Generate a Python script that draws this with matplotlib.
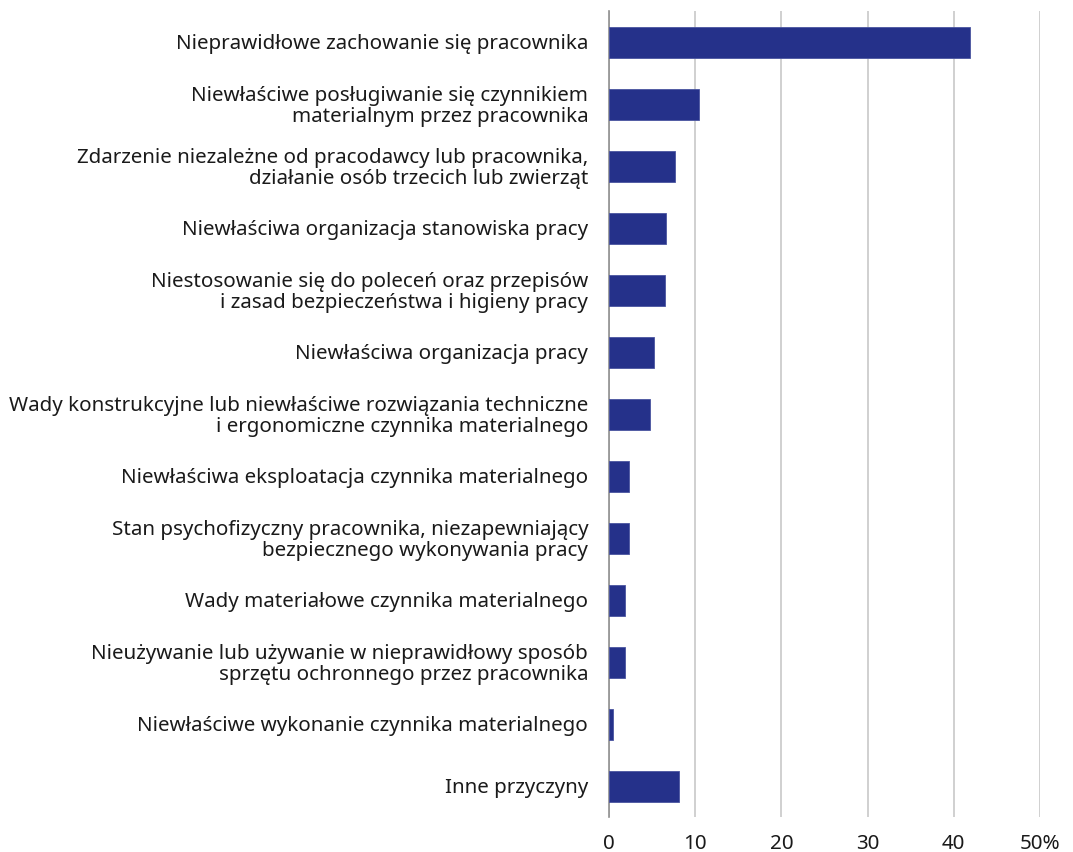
import matplotlib
matplotlib.use("Agg")
import matplotlib.pyplot as plt
from matplotlib.transforms import ScaledTranslation

categories = [
    "Nieprawidłowe zachowanie się pracownika",
    "Niewłaściwe posługiwanie się czynnikiem\nmaterialnym przez pracownika",
    "Zdarzenie niezależne od pracodawcy lub pracownika,\ndziałanie osób trzecich lub zwierząt",
    "Niewłaściwa organizacja stanowiska pracy",
    "Niestosowanie się do poleceń oraz przepisów\ni zasad bezpieczeństwa i higieny pracy",
    "Niewłaściwa organizacja pracy",
    "Wady konstrukcyjne lub niewłaściwe rozwiązania techniczne\ni ergonomiczne czynnika materialnego",
    "Niewłaściwa eksploatacja czynnika materialnego",
    "Stan psychofizyczny pracownika, niezapewniający\nbezpiecznego wykonywania pracy",
    "Wady materiałowe czynnika materialnego",
    "Nieużywanie lub używanie w nieprawidłowy sposób\nsprzętu ochronnego przez pracownika",
    "Niewłaściwe wykonanie czynnika materialnego",
    "Inne przyczyny",
]
values = [41.9, 10.4, 7.7, 6.6, 6.5, 5.2, 4.7, 2.3, 2.3, 1.9, 1.9, 0.5, 8.1]
xticks = [0, 10, 20, 30, 40, 50]
xticklabels = ["0", "10", "20", "30", "40", "50%"]

plt.rcParams['font.family'] = ['Noto Sans', 'DejaVu Sans']

fig = plt.figure(figsize=(10.73, 8.52), dpi=100)
ax = fig.add_axes([609/1073, 1 - 817/852, (1040-609)/1073, (817-11)/852])

y = list(range(len(categories)))
ax.barh(y, values, height=0.5, color="#25318a", edgecolor="#4a55a0", linewidth=0.6, zorder=3)
ax.set_ylim(len(categories) - 0.5, -0.5)
ax.set_xlim(0, 50)
ax.set_yticks(y)
ax.set_yticklabels(categories, fontsize=14.8, color="#1a1a1a", ha="right", linespacing=1.03)
ax.set_xticks(xticks)
ax.set_xticklabels(xticklabels, fontsize=14.8, color="#1a1a1a")
labs = ax.get_xticklabels()
labs[-1].set_transform(labs[-1].get_transform() + ScaledTranslation(9/100, 0, fig.dpi_scale_trans))
ax.tick_params(axis='both', length=0)
ax.tick_params(axis='x', pad=12)
ax.tick_params(axis='y', pad=15)
ax.grid(axis='x', color="#c8c8c8", linewidth=1.2, zorder=0)
for s in ["top", "right", "bottom"]:
    ax.spines[s].set_visible(False)
ax.spines["left"].set_color("#909090")
ax.spines["left"].set_linewidth(1.2)

fig.savefig("out.png", dpi=100)
